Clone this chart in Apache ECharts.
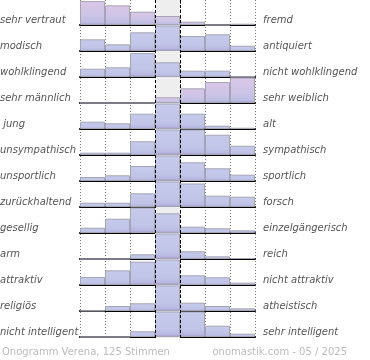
<!DOCTYPE html>
<html>
<head>
<meta charset="utf-8">
<script src="https://cdn.jsdelivr.net/npm/echarts@6/dist/echarts.min.js"></script>
<style>html,body{margin:0;padding:0;background:#fff;}#c{width:370px;height:360px;}</style>
</head>
<body>
<div id="c"></div>
<script>
// Left and right pole labels
var leftLabels = ['sehr vertraut','modisch','wohlklingend','sehr männlich',' jung','unsympathisch','unsportlich','zurückhaltend','gesellig','arm','attraktiv','religiös','nicht intelligent'];
var rightLabels = ['fremd','antiquiert','nicht wohlklingend','sehr weiblich','alt','sympathisch','sportlich','forsch','einzelgängerisch','reich','nicht attraktiv','atheistisch','sehr intelligent'];
var scaleSteps = ['1','2','3','4','5','6','7'];
// vote shares (%) per row, 7 steps from left pole to right pole
var row01 = [34.2, 28.0, 18.9, 12.8, 4.7, 0, 1.8];
var row02 = [16.6, 9.5, 26.6, 42, 21.3, 23.8, 7.5];
var row03 = [11.8, 13.8, 34.0, 20.9, 9.0, 9.0, 0.7];
var row04 = [0, 0, 0, 8.1, 20.9, 29.9, 40];
var row05 = [10.4, 8.1, 21.8, 45, 21.8, 4.7, 1.8];
var row06 = [3.3, 3.3, 19.5, 40, 38, 28.9, 13.2];
var row07 = [5.7, 8.1, 21.3, 42, 26.6, 18.1, 9.0];
var row08 = [6.1, 6.1, 19.5, 40, 33.5, 16.1, 14.7];
var row09 = [7.5, 20.3, 38, 28.0, 9.0, 6.7, 3.8];
var row10 = [0, 0, 6.7, 60, 11.0, 3.8, 1.4];
var row11 = [11.4, 20.9, 33.2, 40, 13.8, 11.0, 3.3];
var row12 = [0.5, 7.1, 11.0, 55, 11.8, 7.1, 3.8];
var row13 = [0, 0, 8.1, 42, 40, 16.1, 4.7];
var footerLeft = 'Onogramm Verena, 125 Stimmen';
var footerRight = 'onomastik.com - 05 / 2025';

var rows = [row01,row02,row03,row04,row05,row06,row07,row08,row09,row10,row11,row12,row13];
var pinkRows = [0, 3];

var ROW_PITCH = 26, ROW_H = 25, LEFT = 80, WIDTH = 175, VMAX = 35.6;
var FONT = 'DejaVu Sans';

var grids = [], xAxes = [], yAxes = [], series = [], graphics = [];

function grad(pink) {
  return {
    type: 'linear', x: 0, y: 0, x2: 0, y2: 1,
    colorStops: pink ? [
      {offset: 0, color: '#dcc6e7'},
      {offset: 0.6, color: '#cbc4e6'},
      {offset: 0.9, color: '#bdbde2'},
      {offset: 1, color: '#a393c8'}
    ] : [
      {offset: 0, color: '#c6cbec'},
      {offset: 0.7, color: '#c0c5e8'},
      {offset: 0.9, color: '#b8b8e0'},
      {offset: 1, color: '#a393c8'}
    ]
  };
}

// background grid with column guides
grids.push({left: LEFT, width: WIDTH, top: 0, height: 13 * ROW_PITCH});
xAxes.push({gridIndex: 0, type: 'value', min: 0, max: 7, interval: 1,
  axisLine: {show: false}, axisTick: {show: false}, axisLabel: {show: false},
  splitLine: {show: true, lineStyle: {color: '#777', width: 1, type: [1, 2]}}});
yAxes.push({gridIndex: 0, type: 'value', min: 0, max: 1, show: false, splitLine: {show: false}});
series.push({type: 'line', xAxisIndex: 0, yAxisIndex: 0, data: [[0, 0]], symbol: 'none', silent: true,
  lineStyle: {opacity: 0}, z: 1,
  markArea: {silent: true, itemStyle: {color: '#eeeeee'}, data: [[{xAxis: 3}, {xAxis: 4}]]}});
series.push({type: 'line', xAxisIndex: 0, yAxisIndex: 0, data: [[0, 0]], symbol: 'none', silent: true,
  lineStyle: {opacity: 0}, z: 5,
  markLine: {silent: true, symbol: 'none', label: {show: false},
    lineStyle: {color: '#000', width: 1, type: [3, 2]},
    data: [{xAxis: 3}, {xAxis: 4}]}});

rows.forEach(function (vals, i) {
  var gi = i + 1;
  var top = i * ROW_PITCH;
  grids.push({left: LEFT, width: WIDTH, top: top, height: ROW_H});
  xAxes.push({gridIndex: gi, type: 'category', data: scaleSteps, boundaryGap: true,
    axisLine: {show: true, lineStyle: {color: '#000', width: 2}},
    axisTick: {show: false}, axisLabel: {show: false}, splitLine: {show: false}});
  yAxes.push({gridIndex: gi, type: 'value', min: 0, max: VMAX, show: false, splitLine: {show: false}});
  var pink = pinkRows.indexOf(i) >= 0;
  series.push({type: 'bar', xAxisIndex: gi, yAxisIndex: gi, data: vals, barCategoryGap: '0%',
    clip: true, z: 2, silent: true,
    itemStyle: {color: grad(pink), borderColor: '#a4a4b4', borderWidth: 1}});
  var base = top + ROW_H;
  graphics.push({type: 'text', left: 0, top: base - 10,
    style: {text: leftLabels[i], fill: '#555', font: 'italic 10px "' + FONT + '"'}});
  graphics.push({type: 'text', left: 263, top: base - 10,
    style: {text: rightLabels[i], fill: '#555', font: 'italic 10px "' + FONT + '"'}});
});

graphics.push({type: 'text', left: 2, top: 347, style: {text: footerLeft, fill: '#bbb', font: '10px "' + FONT + '"'}});
graphics.push({type: 'text', right: 23, top: 347, style: {text: footerRight, fill: '#bbb', font: '10px "' + FONT + '"'}});

var chart = echarts.init(document.getElementById('c'), null, {renderer: 'canvas'});
chart.setOption({
  animation: false,
  backgroundColor: '#fff',
  grid: grids, xAxis: xAxes, yAxis: yAxes, series: series,
  graphic: graphics
});
</script>
</body>
</html>
